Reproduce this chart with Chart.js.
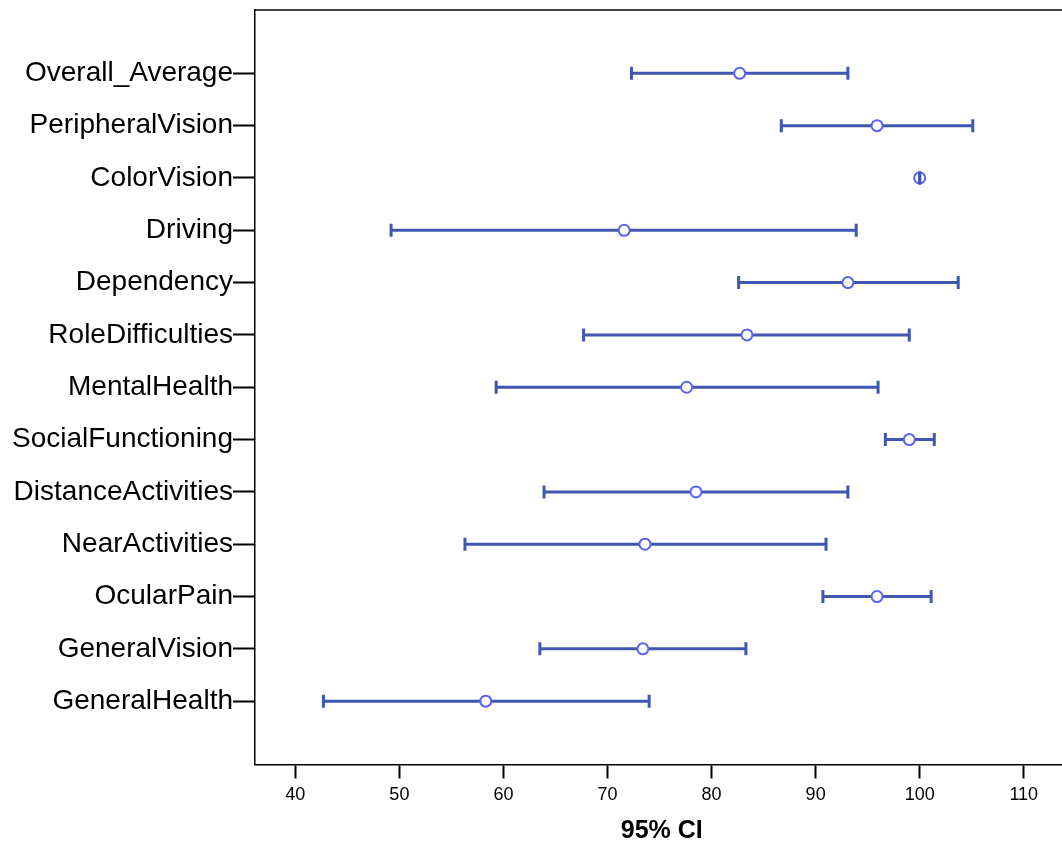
<!DOCTYPE html>
<html>
<head>
<meta charset="utf-8">
<script src="https://cdn.jsdelivr.net/npm/chart.js@4/dist/chart.umd.min.js"></script>
<style>
  html, body { margin: 0; padding: 0; background: #fff; overflow: hidden; }
  #wrap { width: 1078px; height: 850px; }
</style>
</head>
<body>
<div id="wrap"><canvas id="grafica" width="1078" height="850"></canvas></div>
<script>
// Escalas (de arriba hacia abajo)
const categorias = [
  "Overall_Average", "PeripheralVision", "ColorVision", "Driving", "Dependency",
  "RoleDifficulties", "MentalHealth", "SocialFunctioning", "DistanceActivities",
  "NearActivities", "OcularPain", "GeneralVision", "GeneralHealth"
];
const medias    = [82.7, 95.9, 100.0, 71.6, 93.1, 83.4, 77.6, 99.0, 78.5, 73.6, 95.9, 73.4, 58.3];
const limInf    = [72.3, 86.7, 100.0, 49.2, 82.6, 67.7, 59.3, 96.7, 63.9, 56.3, 90.7, 63.5, 42.7];
const limSup    = [93.1, 105.1, 100.0, 93.9, 103.7, 99.0, 96.0, 101.4, 93.1, 91.0, 101.1, 83.3, 74.0];
const ticksX    = [40, 50, 60, 70, 80, 90, 100, 110];

const colorBarra = "#3f57b0";
const colorMedia = "#5a63f4";
const fuente = "'Liberation Sans', Arial, Helvetica, sans-serif";

// Líneas del intervalo, una por escala
const lineasIC = categorias.map((c, i) => ({
  type: "line",
  data: [{ x: limInf[i], y: i }, { x: limSup[i], y: i }],
  borderColor: colorBarra,
  borderWidth: 3,
  pointRadius: 0,
  order: 2
}));

// Marcas de los extremos
const extremos = {
  type: "scatter",
  data: categorias.flatMap((c, i) => [{ x: limInf[i], y: i }, { x: limSup[i], y: i }]),
  pointStyle: "line",
  rotation: 90,
  pointRadius: 6.5,
  borderColor: colorBarra,
  borderWidth: 3,
  order: 0
};

// Media de cada escala
const puntosMedia = {
  type: "scatter",
  data: categorias.map((c, i) => ({ x: medias[i], y: i })),
  pointStyle: "circle",
  pointRadius: 5.5,
  borderColor: colorMedia,
  backgroundColor: "#fff",
  borderWidth: 2,
  order: 1
};

// Borde superior del marco
const marcoSuperior = {
  id: "marcoSuperior",
  afterDraw(chart) {
    const { ctx, chartArea } = chart;
    ctx.save();
    ctx.strokeStyle = "#000";
    ctx.lineWidth = 1.5;
    ctx.beginPath();
    ctx.moveTo(chartArea.left, chartArea.top);
    ctx.lineTo(chartArea.right, chartArea.top);
    ctx.stroke();
    ctx.restore();
  }
};

new Chart(document.getElementById("grafica"), {
  data: { datasets: [...lineasIC, extremos, puntosMedia] },
  options: {
    responsive: false,
    animation: false,
    layout: { padding: { top: 10, left: 0, right: 0, bottom: 0 } },
    plugins: {
      legend: { display: false },
      tooltip: { enabled: false }
    },
    scales: {
      x: {
        type: "linear",
        position: "bottom",
        min: 36.125,
        max: 114.3,
        afterBuildTicks: s => { s.ticks = ticksX.map(v => ({ value: v })); },
        afterFit: s => {
          s.height = 85.5;
          s.paddingLeft = 0;
          s.paddingRight = 0;
        },
        grid: { drawOnChartArea: false, tickLength: 14, tickColor: "#000", tickWidth: 2 },
        border: { color: "#000", width: 1.5 },
        ticks: { color: "#000", padding: 6, font: { family: fuente, size: 18 } },
        title: {
          display: true,
          text: "95% CI",
          color: "#000",
          padding: { top: 0, bottom: 4 },
          font: { family: fuente, size: 25, weight: "bold" }
        }
      },
      y: {
        type: "linear",
        reverse: true,
        min: -1.21,
        max: 13.21,
        afterBuildTicks: s => { s.ticks = categorias.map((c, i) => ({ value: i })); },
        afterFit: s => {
          s.width = 255;
          s.paddingTop = 0;
          s.paddingBottom = 0;
        },
        grid: { drawOnChartArea: false, tickLength: 22, tickColor: "#000", tickWidth: 2 },
        border: { color: "#000", width: 1.5 },
        ticks: {
          autoSkip: false,
          color: "#000",
          padding: 0,
          font: { family: fuente, size: 28 },
          callback: v => categorias[v]
        }
      }
    }
  },
  plugins: [marcoSuperior]
});
</script>
</body>
</html>
